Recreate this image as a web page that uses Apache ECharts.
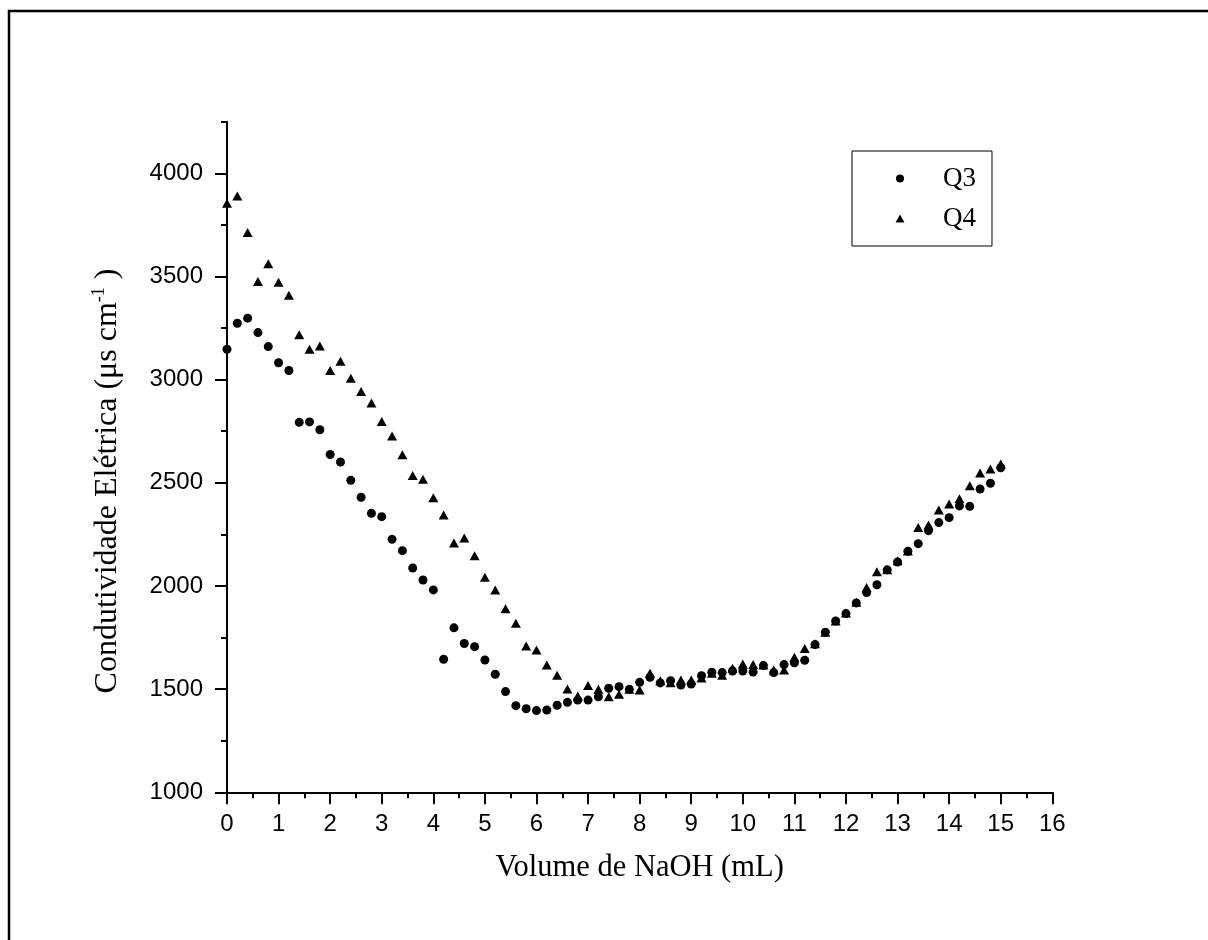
<!DOCTYPE html>
<html>
<head>
<meta charset="utf-8">
<script src="https://cdn.jsdelivr.net/npm/echarts@6/dist/echarts.min.js"></script>
<style>html,body{margin:0;padding:0;background:#fff}#c{width:1208px;height:940px}</style>
</head>
<body>
<div id="c"></div>
<script>
const volume = [0,0.2,0.4,0.6,0.8,1.0,1.2,1.4,1.6,1.8,2.0,2.2,2.4,2.6,2.8,3.0,3.2,3.4,3.6,3.8,4.0,4.2,4.4,4.6,4.8,5.0,5.2,5.4,5.6,5.8,6.0,6.2,6.4,6.6,6.8,7.0,7.2,7.4,7.6,7.8,8.0,8.2,8.4,8.6,8.8,9.0,9.2,9.4,9.6,9.8,10.0,10.2,10.4,10.6,10.8,11.0,11.2,11.4,11.6,11.8,12.0,12.2,12.4,12.6,12.8,13.0,13.2,13.4,13.6,13.8,14.0,14.2,14.4,14.6,14.8,15.0];
const q3 = [3147,3273,3298,3228,3160,3082,3044,2793,2795,2757,2637,2601,2512,2430,2352,2336,2226,2171,2087,2029,1981,1645,1797,1721,1706,1641,1572,1488,1420,1405,1396,1399,1422,1436,1447,1447,1463,1504,1512,1499,1533,1557,1530,1541,1520,1525,1565,1582,1580,1588,1588,1583,1614,1580,1619,1628,1640,1716,1776,1830,1866,1918,1968,2006,2078,2116,2168,2205,2268,2307,2331,2388,2386,2470,2498,2573];
const q4 = [3855,3890,3713,3475,3562,3472,3409,3218,3147,3163,3044,3089,3007,2942,2887,2797,2727,2636,2535,2517,2427,2344,2208,2232,2147,2042,1981,1890,1819,1709,1690,1617,1567,1501,1467,1517,1499,1463,1475,1499,1496,1577,1541,1531,1544,1544,1554,1577,1567,1601,1622,1619,1617,1593,1593,1654,1697,1720,1776,1830,1869,1921,1992,2069,2078,2122,2170,2283,2296,2368,2397,2423,2486,2548,2567,2591];
const yMajorTicks = [1000,1500,2000,2500,3000,3500,4000];
const seriesNames = ['Q3','Q4'];
const xTitle = 'Volume de NaOH (mL)';

const chart = echarts.init(document.getElementById('c'), null, {renderer:'canvas'});
const sans = 'Liberation Sans';
const serif = 'Liberation Serif';
chart.setOption({
  backgroundColor:'#fff',
  animation:false,
  grid:{left:227, right:155.7, top:121.7, bottom:147.7},
  xAxis:{
    type:'value', min:0, max:16, interval:1,
    name:xTitle, nameLocation:'middle', nameGap:60,
    nameTextStyle:{fontFamily:serif, fontSize:30.5, color:'#000'},
    axisLine:{show:true, lineStyle:{color:'#000', width:2}},
    axisTick:{show:true, length:12, lineStyle:{color:'#000', width:2}},
    minorTick:{show:true, splitNumber:2, length:6, lineStyle:{color:'#000', width:2}},
    axisLabel:{fontFamily:sans, fontSize:24, color:'#000', margin:20},
    splitLine:{show:false}
  },
  yAxis:[{
    type:'value', min:1000, max:4250, interval:250,
    axisLine:{show:true, lineStyle:{color:'#000', width:2}},
    axisTick:{show:true, length:6, lineStyle:{color:'#000', width:2}},
    axisLabel:{show:false},
    splitLine:{show:false}
  },{
    type:'value', min:1000, max:4250, interval:500, position:'left', offset:0,
    axisLine:{show:false},
    axisTick:{show:true, length:12, lineStyle:{color:'#000', width:2}, customValues:yMajorTicks},
    axisLabel:{fontFamily:sans, fontSize:24, color:'#000', margin:24, customValues:yMajorTicks,
               formatter:function(v){return String(v);}},
    splitLine:{show:false}
  }],
  legend:{
    left:852, top:151, orient:'vertical',
    padding:[14,16,14,43.5], itemGap:13, itemWidth:9, itemHeight:8,
    borderColor:'#000', borderWidth:1,
    textStyle:{fontFamily:serif, fontSize:27, lineHeight:27, color:'#000', padding:[0,0,0,33.5]},
    data:[{name:seriesNames[0], icon:'circle'},{name:seriesNames[1], icon:'triangle'}]
  },
  graphic:[
    {type:'rect', shape:{x:9, y:11, width:1400, height:1100}, style:{fill:null, stroke:'#000', lineWidth:2.5}, silent:true},
    {type:'text', x:107, y:481, rotation:Math.PI/2,
     style:{text:'{n|Condutividade Elétrica (μs cm}{s|-1}{n| )}', align:'center', verticalAlign:'middle',
       rich:{n:{fontFamily:serif, fontSize:32, fill:'#000', lineHeight:34, verticalAlign:'bottom'},
             s:{fontFamily:serif, fontSize:18, fill:'#000', lineHeight:34, verticalAlign:'top'}}}}
  ],
  series:[
    {name:seriesNames[0], type:'scatter', yAxisIndex:0, symbol:'circle', symbolSize:9,
     itemStyle:{color:'#000', opacity:1}, data:volume.map((v,i)=>[v,q3[i]])},
    {name:seriesNames[1], type:'scatter', yAxisIndex:0, symbol:'triangle', symbolSize:[10,9],
     itemStyle:{color:'#000', opacity:1}, data:volume.map((v,i)=>[v,q4[i]])}
  ]
});
</script>
</body>
</html>
